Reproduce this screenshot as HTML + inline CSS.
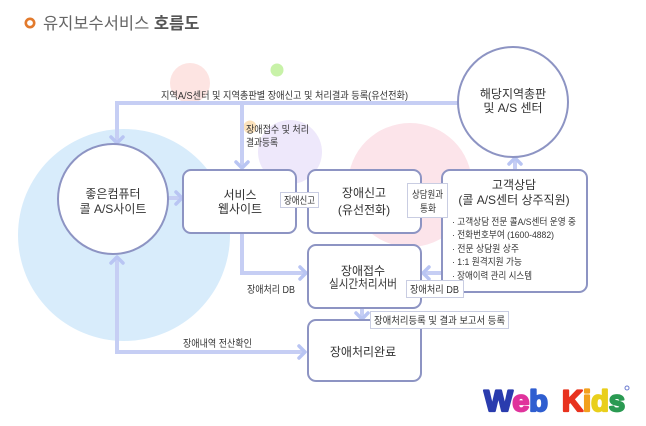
<!DOCTYPE html>
<html><head><meta charset="utf-8">
<style>
html,body{margin:0;padding:0;background:#fff;}
svg{display:block;}
text{font-family:"Liberation Sans","Noto Sans CJK KR",sans-serif;fill:#333;}
</style></head>
<body>
<svg width="646" height="426" viewBox="0 0 646 426" xmlns="http://www.w3.org/2000/svg">
<!-- title -->
<circle cx="30" cy="23" r="4.2" fill="none" stroke="#e27a2c" stroke-width="2.6"/>
<text x="43" y="29" font-size="16.5" style="fill:#666">유지보수서비스 <tspan font-weight="bold" style="fill:#555">호름도</tspan></text>

<!-- background decorative circles -->
<circle cx="124" cy="235" r="106" fill="#d8ecfb"/>
<circle cx="410" cy="185" r="62" fill="#fce4ea"/>
<circle cx="290" cy="152" r="32" fill="#eee8fb"/>
<circle cx="190" cy="83" r="20" fill="#fde4e2"/>
<circle cx="277" cy="70" r="6.5" fill="#c8f2a8"/>
<circle cx="250" cy="127" r="6.5" fill="#fbe2bc"/>

<!-- connectors -->
<g stroke="#c6cef4" stroke-width="4" fill="none" stroke-linejoin="miter">
  <polyline points="117,143 117,103 460,103"/>
  <line x1="242" y1="103" x2="242" y2="168"/>
  <line x1="168" y1="198" x2="182" y2="198"/>
  <polyline points="242,233 242,273 305,273"/>
  <line x1="423" y1="273" x2="442" y2="273"/>
  <line x1="515" y1="158" x2="515" y2="170"/>
  <line x1="362" y1="308" x2="362" y2="319"/>
  <polyline points="117,257 117,352 305,352"/>
</g>
<!-- arrowheads -->
<g stroke="#b9c5f3" stroke-width="3.5" fill="none" stroke-linecap="round" stroke-linejoin="round">
  <polyline points="111,137 117,143 123,137"/>
  <polyline points="236,162 242,168 248,162"/>
  <polyline points="176,192 182,198 176,204"/>
  <polyline points="300,267 306,273 300,279"/>
  <polyline points="429,267 423,273 429,279"/>
  <polyline points="509,164 515,158 521,164"/>
  <polyline points="356,313 362,319 368,313"/>
  <polyline points="111,263 117,257 123,263"/>
  <polyline points="299,346 305,352 299,358"/>
</g>

<!-- circles nodes -->
<circle cx="113" cy="199" r="55" fill="#fff" stroke="#8d94c3" stroke-width="2"/>
<circle cx="513" cy="102" r="55" fill="#fff" stroke="#8d94c3" stroke-width="2"/>

<!-- boxes -->
<g fill="#fff" stroke="#8d94c3" stroke-width="2">
  <rect x="183" y="170" width="113" height="63" rx="8"/>
  <rect x="308" y="170" width="113" height="63" rx="8"/>
  <rect x="442" y="170" width="145" height="122" rx="8"/>
  <rect x="308" y="245" width="113" height="63" rx="8"/>
  <rect x="308" y="320" width="113" height="61" rx="8"/>
</g>

<!-- small label boxes -->
<g fill="#fff" stroke="#c9cde2" stroke-width="1">
  <rect x="280.5" y="192.5" width="38" height="15"/>
  <rect x="407.5" y="183.5" width="40" height="34"/>
  <rect x="406.5" y="280.5" width="57" height="17"/>
  <rect x="370.5" y="311.5" width="138" height="17"/>
</g>

<!-- node texts -->
<g font-size="12" text-anchor="middle">
  <text x="113" y="198">좋은컴퓨터</text>
  <text x="113" y="213">콜 A/S사이트</text>
  <text x="513" y="98">해당지역총판</text>
  <text x="513" y="112">및 A/S 센터</text>
  <text x="240" y="199">서비스</text>
  <text x="240" y="213">웹사이트</text>
  <text x="364" y="197">장애신고</text>
  <text x="364" y="214">(유선전화)</text>
  <text x="514" y="189">고객상담</text>
  <text x="514" y="204">(콜 A/S센터 상주직원)</text>
  <text x="363" y="275">장애접수</text>
  <text x="363" y="288" textLength="68" lengthAdjust="spacingAndGlyphs">실시간처리서버</text>
  <text x="363" y="356">장애처리완료</text>
</g>

<g font-size="9.5">
  <text x="452" y="225" textLength="124" lengthAdjust="spacingAndGlyphs">· 고객상담 전문 콜A/S센터 운영 중</text>
  <text x="452" y="238" textLength="102" lengthAdjust="spacingAndGlyphs">· 전화번호부여 (1600-4882)</text>
  <text x="452" y="252" textLength="67" lengthAdjust="spacingAndGlyphs">· 전문 상담원 상주</text>
  <text x="452" y="265" textLength="70" lengthAdjust="spacingAndGlyphs">· 1:1 원격지원 가능</text>
  <text x="452" y="279" textLength="80" lengthAdjust="spacingAndGlyphs">· 장애이력 관리 시스템</text>
</g>

<!-- connector labels -->
<g font-size="10">
  <text x="161" y="99" textLength="247" lengthAdjust="spacingAndGlyphs">지역A/S센터 및 지역총판별 장애신고 및 처리결과 등록(유선전화)</text>
  <text x="246" y="133" textLength="63" lengthAdjust="spacingAndGlyphs">장애접수 및 처리</text>
  <text x="246" y="146" textLength="32" lengthAdjust="spacingAndGlyphs">결과등록</text>
  <text x="284" y="204" textLength="31" lengthAdjust="spacingAndGlyphs">장애신고</text>
  <text x="412" y="198" textLength="31" lengthAdjust="spacingAndGlyphs">상담원과</text>
  <text x="420" y="212" textLength="16" lengthAdjust="spacingAndGlyphs">통화</text>
  <text x="410" y="293" textLength="49" lengthAdjust="spacingAndGlyphs">장애처리 DB</text>
  <text x="374" y="324" textLength="131" lengthAdjust="spacingAndGlyphs">장애처리등록 및 결과 보고서 등록</text>
  <text x="247" y="293" textLength="48" lengthAdjust="spacingAndGlyphs">장애처리 DB</text>
  <text x="183" y="347" textLength="69" lengthAdjust="spacingAndGlyphs">장애내역 전산확인</text>
</g>

<!-- Web Kids logo -->
<g font-family="'Liberation Sans',sans-serif" font-weight="bold" font-size="30" stroke-width="2.2" stroke-linejoin="round">
  <text x="484" y="411" textLength="64" lengthAdjust="spacingAndGlyphs"><tspan style="fill:#2a3cae" stroke="#2a3cae">W</tspan><tspan style="fill:#e0339c" stroke="#e0339c">e</tspan><tspan style="fill:#2f5ed0" stroke="#2f5ed0">b</tspan></text>
  <text x="562" y="411" textLength="63" lengthAdjust="spacingAndGlyphs"><tspan style="fill:#e8321e" stroke="#e8321e">K</tspan><tspan style="fill:#f2a11e" stroke="#f2a11e">i</tspan><tspan style="fill:#e9cf1c" stroke="#e9cf1c">d</tspan><tspan style="fill:#2a9a52" stroke="#2a9a52">s</tspan></text>
</g>
<circle cx="627" cy="388" r="2" fill="none" stroke="#6a7ad0" stroke-width="1"/>
</svg>
</body></html>
